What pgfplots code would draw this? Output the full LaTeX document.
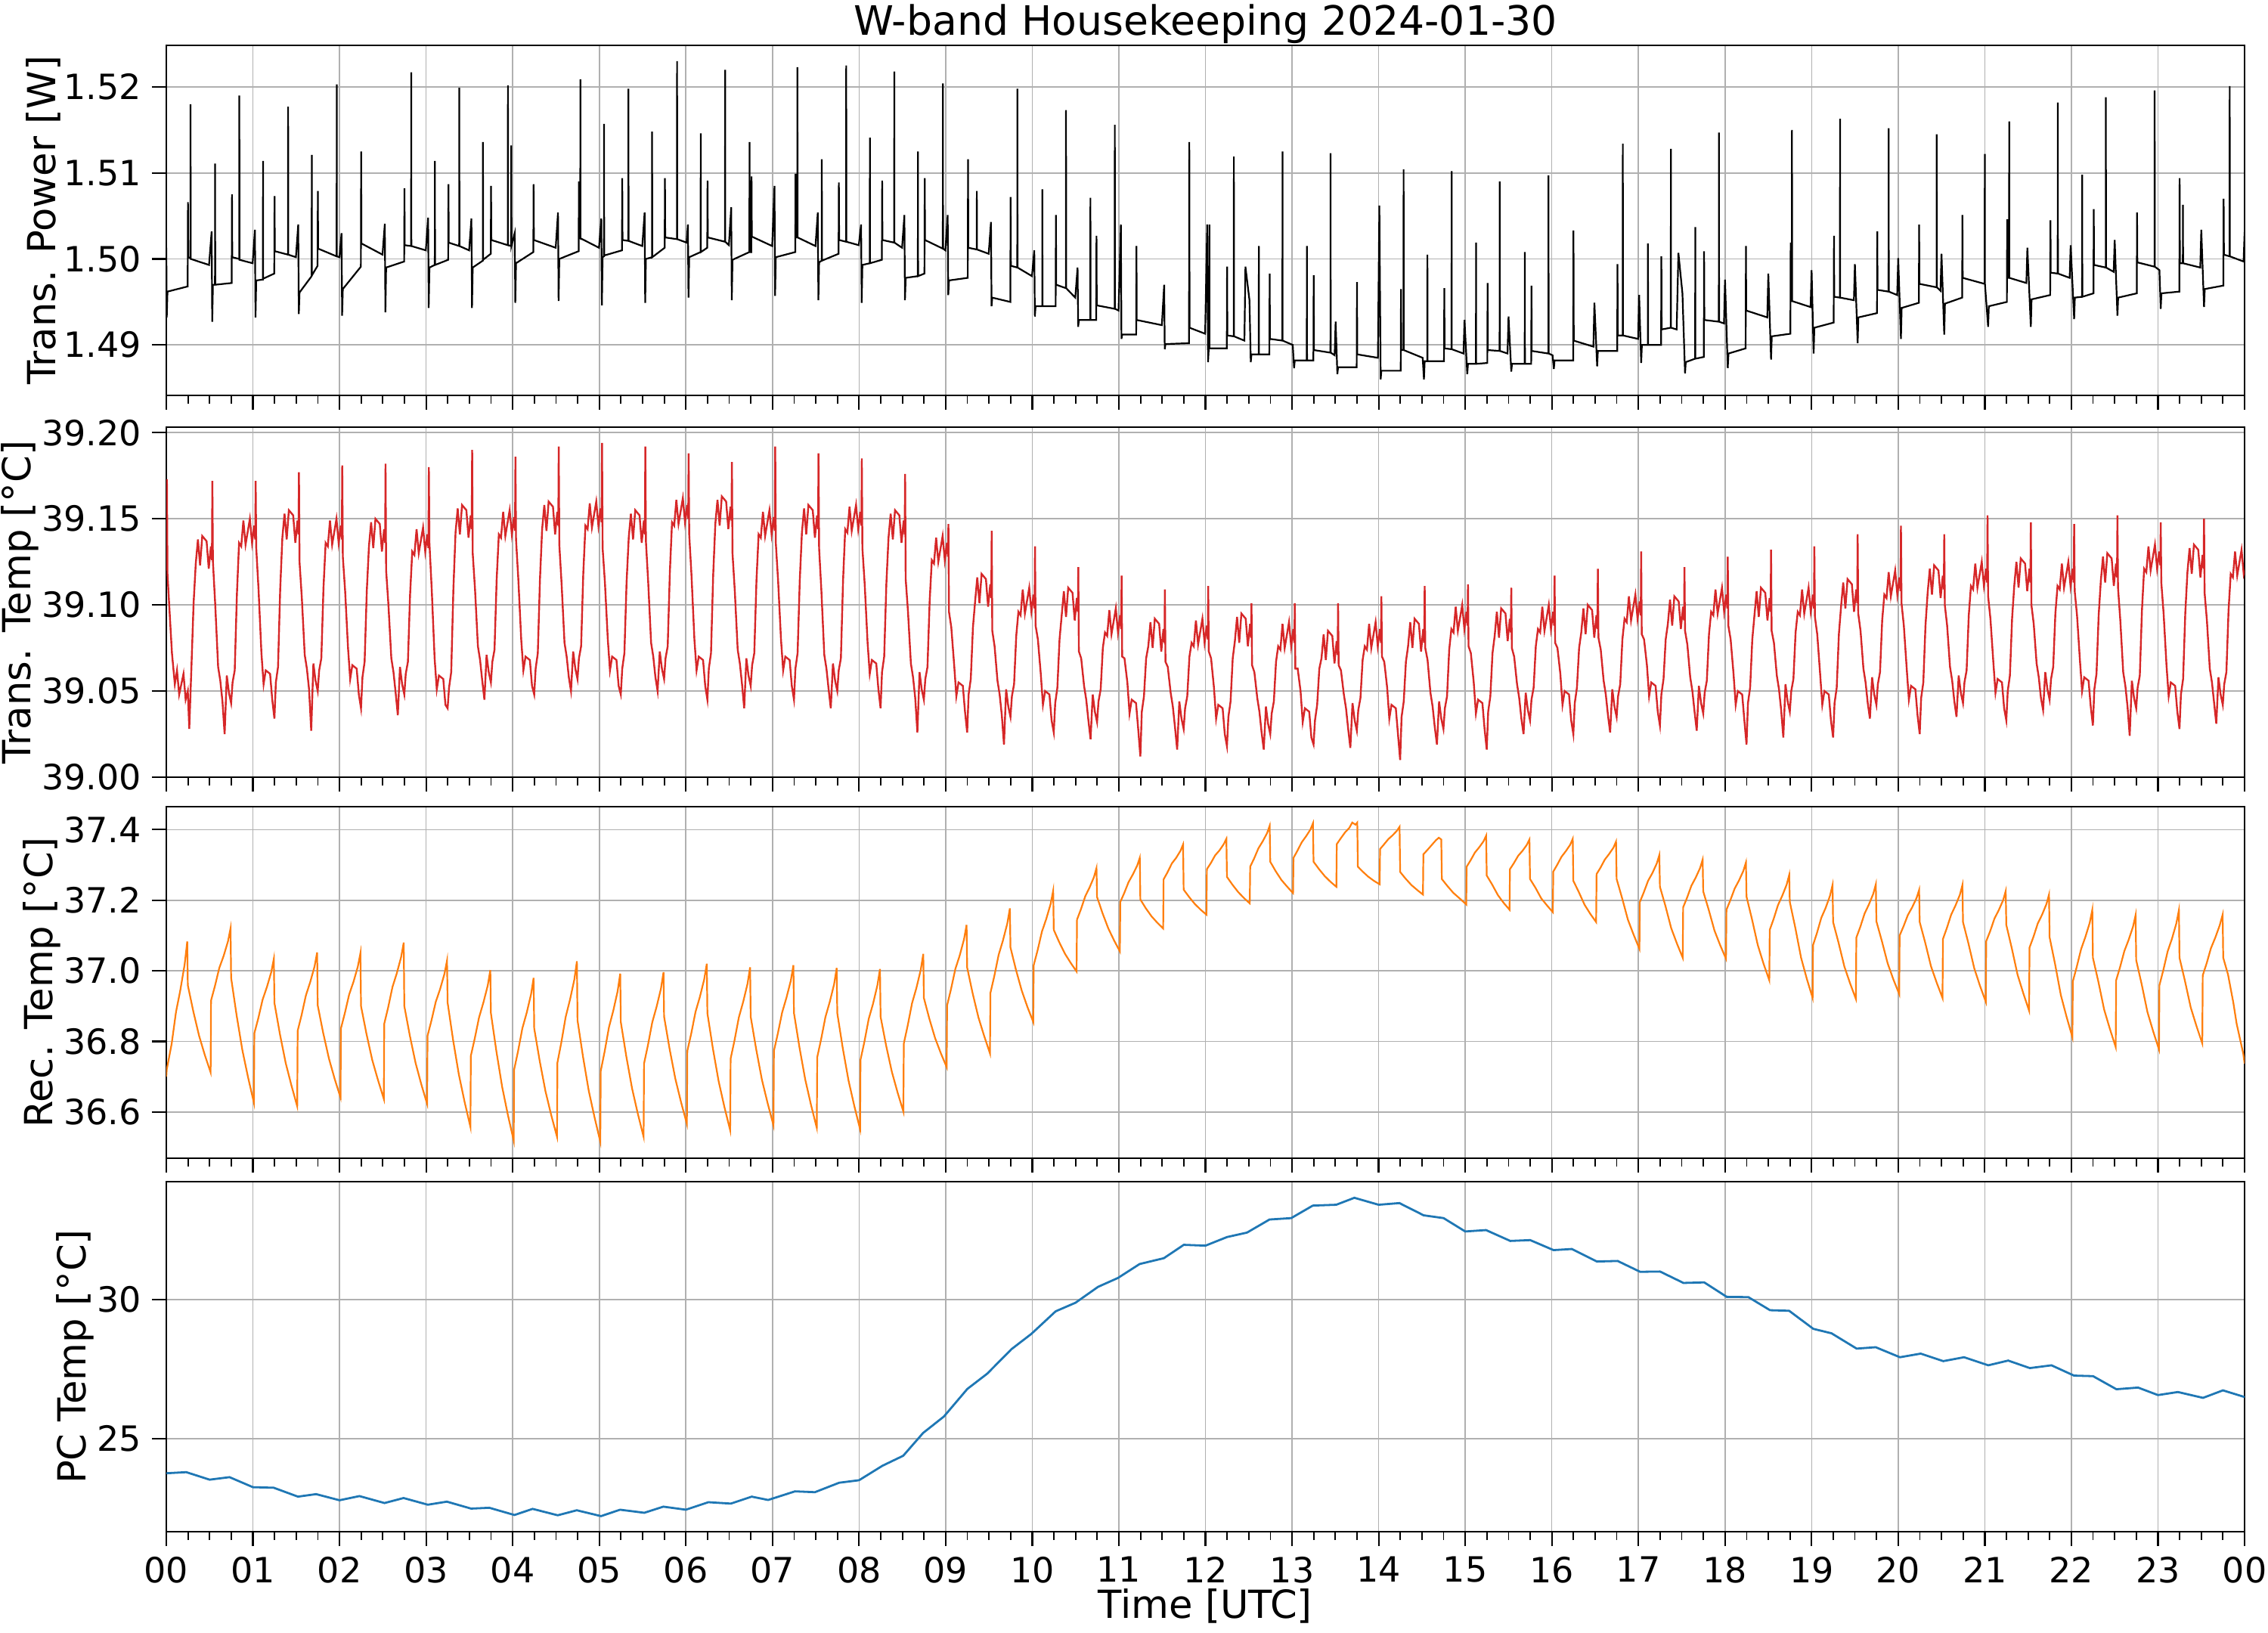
\documentclass[border=0pt]{standalone}
\usepackage{fontspec}
\setmainfont{DejaVu Sans}
\usepackage{pgfplots}
\pgfplotsset{compat=1.18}
\definecolor{mplred}{HTML}{D62728}
\definecolor{mplorange}{HTML}{FF7F0E}
\definecolor{mplblue}{HTML}{1F77B4}
\definecolor{gridgray}{HTML}{B0B0B0}
\pgfplotsset{
 hk/.style={
  scale only axis, width=687.25pt, height=115.75pt,
  xmin=0, xmax=1440,
  xtick={0,60,...,1440},
  minor x tick num=3,
  tick pos=left, tick align=outside,
  major tick length=4.75pt, minor tick length=2.8pt,
  tick style={line width=0.55pt, color=black},
  minor tick style={line width=0.45pt},
  grid=major,
  major grid style={line width=0.4pt, color=gridgray},
  axis line style={line width=0.6pt},
  tick label style={font=\fontsize{11.5}{13}\selectfont},
  label style={font=\fontsize{12.8}{15}\selectfont},
  ylabel shift=-5.75pt,
  /pgf/number format/assume math mode=true,
  scaled y ticks=false,
  xticklabels={},
  anchor=north west,
 }
}
\begin{document}
\begin{tikzpicture}
\useasboundingbox (0,0) rectangle (750pt,-540pt);
% ---------------- Panel 1: Trans. Power ----------------
\begin{axis}[hk, at={(55pt,-15pt)},
  ymin=1.48413, ymax=1.52484,
  ytick={1.49,1.50,1.51,1.52},
  yticklabel style={/pgf/number format/.cd,fixed,fixed zerofill,precision=2},
  ylabel={Trans. Power [W]}]
\addplot[black, line width=0.55pt] table {
x y
0 1.5013
0.3 1.4932
0.8 1.4962
14.8 1.4968
15.0 1.5066
15.2 1.5002
16.7 1.5001
16.8 1.5180
16.9 1.5000
29.6 1.4993
31.4 1.5032
31.8 1.4927
32.3 1.4970
33.7 1.4970
33.8 1.5111
33.9 1.4970
45.3 1.4972
45.5 1.5075
45.7 1.5002
50.5 1.5000
50.6 1.5190
50.7 1.4999
59.8 1.4995
61.4 1.5034
61.8 1.4932
62.3 1.4975
66.9 1.4976
67.0 1.5114
67.1 1.4977
74.8 1.4983
75.0 1.5073
75.2 1.5009
84.3 1.5005
84.4 1.5177
84.5 1.5005
89.8 1.5002
91.4 1.5040
91.8 1.4936
92.3 1.4961
100.7 1.4980
100.8 1.5121
100.9 1.4981
104.8 1.4992
105.0 1.5079
105.2 1.5012
118.0 1.5003
118.1 1.5203
118.2 1.5003
120.0 1.5002
121.4 1.5030
121.8 1.4934
122.3 1.4965
134.8 1.4991
135.0 1.5125
135.2 1.5018
149.8 1.5005
151.4 1.5041
151.8 1.4938
152.3 1.4990
164.8 1.4997
165.0 1.5082
165.2 1.5016
169.6 1.5015
169.7 1.5217
169.8 1.5015
179.8 1.5010
181.4 1.5048
181.8 1.4943
182.3 1.4990
186.0 1.4993
186.1 1.5114
186.2 1.4993
195.3 1.4999
195.5 1.5087
195.7 1.5019
202.9 1.5015
203.0 1.5199
203.1 1.5015
209.8 1.5010
211.4 1.5047
211.8 1.4943
212.3 1.4990
219.3 1.4998
219.4 1.5136
219.5 1.4999
224.8 1.5006
225.0 1.5085
225.2 1.5022
236.6 1.5016
236.7 1.5202
236.8 1.5016
238.9 1.5015
239.0 1.5132
239.1 1.5015
241.4 1.5030
241.8 1.4949
242.3 1.4995
254.3 1.5008
254.5 1.5087
254.7 1.5022
269.8 1.5013
271.4 1.5054
271.8 1.4951
272.3 1.5000
285.7 1.5009
285.9 1.5090
286.1 1.5025
286.8 1.5024
286.9 1.5209
287.0 1.5024
299.8 1.5013
301.4 1.5047
301.8 1.4946
302.3 1.5002
303.2 1.5003
303.3 1.5157
303.4 1.5004
315.7 1.5010
315.9 1.5094
316.1 1.5022
320.1 1.5021
320.2 1.5198
320.3 1.5021
329.8 1.5015
331.4 1.5054
331.8 1.4949
332.3 1.5000
336.5 1.5002
336.6 1.5148
336.7 1.5002
345.3 1.5013
345.5 1.5094
345.7 1.5025
353.8 1.5023
353.9 1.5230
354.0 1.5023
360.5 1.5019
361.4 1.5040
361.8 1.4955
362.3 1.5002
370.2 1.5008
370.3 1.5146
370.4 1.5008
374.8 1.5013
375.0 1.5091
375.2 1.5025
387.1 1.5020
387.2 1.5220
387.3 1.5020
389.8 1.5016
391.4 1.5060
391.8 1.4952
392.3 1.4999
404.0 1.5008
404.1 1.5136
404.2 1.5008
405.3 1.5008
405.5 1.5096
405.7 1.5026
419.8 1.5015
421.4 1.5085
421.8 1.4957
422.3 1.5002
435.8 1.5008
436.0 1.5099
436.2 1.5025
437.2 1.5025
437.3 1.5223
437.4 1.5025
449.8 1.5015
451.4 1.5054
451.8 1.4952
452.3 1.4996
454.1 1.4998
454.2 1.5116
454.3 1.4998
465.8 1.5006
466.0 1.5089
466.2 1.5022
471.0 1.5020
471.1 1.5225
471.2 1.5020
479.8 1.5016
481.4 1.5040
481.8 1.4949
482.3 1.4993
487.4 1.4995
487.5 1.5141
487.6 1.4995
495.8 1.4999
496.0 1.5091
496.2 1.5022
504.3 1.5019
504.4 1.5218
504.5 1.5019
509.8 1.5013
511.4 1.5051
511.8 1.4952
512.3 1.4978
520.7 1.4980
520.8 1.5125
520.9 1.4980
525.3 1.4983
525.5 1.5094
525.7 1.5022
538.0 1.5012
538.1 1.5204
538.2 1.5012
539.8 1.5010
541.4 1.5051
541.8 1.4958
542.3 1.4975
555.3 1.4978
555.5 1.5116
555.7 1.5013
561.5 1.5011
561.6 1.5079
561.7 1.5011
569.8 1.5006
571.4 1.5043
571.8 1.4945
572.3 1.4955
584.8 1.4950
585.0 1.5072
585.2 1.4992
589.6 1.4990
589.7 1.5198
589.8 1.4990
599.8 1.4980
601.4 1.5010
601.8 1.4933
602.3 1.4945
606.9 1.4945
607.0 1.5081
607.1 1.4945
616.2 1.4945
616.4 1.5051
616.6 1.4970
623.3 1.4966
623.4 1.5173
623.5 1.4966
629.8 1.4955
631.4 1.4990
631.8 1.4921
632.3 1.4929
640.2 1.4929
640.3 1.5071
640.4 1.4929
644.3 1.4929
644.5 1.5027
644.7 1.4946
657.1 1.4942
657.2 1.5156
657.3 1.4942
659.8 1.4940
661.4 1.5040
661.8 1.4907
662.3 1.4912
672.0 1.4912
672.2 1.5015
672.4 1.4929
689.8 1.4923
691.4 1.4970
691.8 1.4895
692.3 1.4901
708.6 1.4902
708.8 1.5136
709.0 1.4920
719.8 1.4913
721.2 1.5040
721.8 1.4880
722.3 1.4896
722.6 1.4896
722.7 1.5040
722.8 1.4896
734.8 1.4896
735.0 1.4991
735.2 1.4911
739.6 1.4910
739.7 1.5119
739.8 1.4910
747.0 1.4905
747.7 1.4991
750.5 1.4952
751.4 1.4880
751.9 1.4889
756.9 1.4889
757.0 1.5015
757.1 1.4889
764.3 1.4889
764.5 1.4983
764.7 1.4907
773.3 1.4905
773.4 1.5125
773.5 1.4905
780.5 1.4900
781.4 1.4873
781.9 1.4882
790.2 1.4882
790.3 1.5015
790.4 1.4882
794.8 1.4882
795.0 1.4981
795.2 1.4894
806.6 1.4891
806.7 1.5123
806.8 1.4891
809.5 1.4888
810.2 1.4927
811.4 1.4866
811.9 1.4874
824.8 1.4874
825.0 1.4973
825.2 1.4889
839.5 1.4885
840.5 1.5062
841.4 1.4860
841.9 1.4870
855.3 1.4870
855.5 1.4965
855.7 1.4894
857.2 1.4894
857.3 1.5104
857.4 1.4894
870.5 1.4885
871.4 1.4860
871.9 1.4881
873.7 1.4881
873.8 1.5005
873.9 1.4881
885.3 1.4881
885.5 1.4966
885.7 1.4896
890.5 1.4895
890.6 1.5102
890.7 1.4895
898.8 1.4890
899.5 1.4929
901.4 1.4866
901.9 1.4878
907.4 1.4878
907.5 1.5019
907.6 1.4878
915.3 1.4879
915.5 1.4972
915.7 1.4894
923.8 1.4893
923.9 1.5090
924.0 1.4893
929.3 1.4890
930.0 1.4933
931.9 1.4869
932.4 1.4878
941.2 1.4878
941.3 1.5008
941.4 1.4878
945.7 1.4878
945.9 1.4969
946.1 1.4893
957.6 1.4890
957.7 1.5097
957.8 1.4890
960.5 1.4888
961.4 1.4872
961.9 1.4882
974.8 1.4882
975.0 1.5033
975.2 1.4905
988.8 1.4898
989.5 1.4949
991.4 1.4875
991.9 1.4893
1005.3 1.4893
1005.5 1.4994
1005.7 1.4911
1009.1 1.4911
1009.2 1.5134
1009.3 1.4911
1019.8 1.4907
1020.5 1.4958
1021.9 1.4879
1022.4 1.4900
1026.5 1.4900
1026.6 1.5018
1026.7 1.4900
1035.7 1.4900
1035.9 1.5003
1036.1 1.4918
1042.4 1.4920
1042.5 1.5128
1042.6 1.4920
1046.5 1.4918
1047.7 1.5007
1050.5 1.4960
1052.3 1.4867
1052.8 1.4880
1059.3 1.4884
1059.4 1.5037
1059.5 1.4884
1065.3 1.4886
1065.5 1.5009
1065.7 1.4929
1075.7 1.4927
1075.8 1.5147
1075.9 1.4927
1079.3 1.4925
1080.0 1.4976
1081.9 1.4873
1082.4 1.4890
1094.3 1.4896
1094.5 1.5015
1094.7 1.4940
1109.3 1.4932
1110.0 1.4983
1111.9 1.4883
1112.4 1.4910
1125.3 1.4913
1125.5 1.5019
1125.7 1.4951
1126.3 1.4951
1126.4 1.5150
1126.5 1.4951
1139.3 1.4944
1140.0 1.4987
1141.4 1.4890
1141.9 1.4920
1155.3 1.4926
1155.5 1.5027
1155.7 1.4956
1159.6 1.4955
1159.7 1.5163
1159.8 1.4955
1169.3 1.4952
1170.0 1.4994
1171.9 1.4902
1172.4 1.4932
1185.3 1.4937
1185.5 1.5032
1185.7 1.4964
1193.3 1.4962
1193.4 1.5152
1193.5 1.4962
1199.3 1.4958
1200.0 1.5001
1201.9 1.4907
1202.4 1.4943
1214.3 1.4949
1214.5 1.5040
1214.7 1.4971
1226.6 1.4967
1226.7 1.5145
1226.8 1.4967
1229.3 1.4963
1230.0 1.5006
1231.9 1.4912
1232.4 1.4948
1244.3 1.4955
1244.5 1.5051
1244.7 1.4978
1259.9 1.4971
1260.0 1.5122
1260.1 1.4971
1262.3 1.4921
1262.8 1.4945
1275.3 1.4950
1275.5 1.5046
1275.7 1.4978
1276.8 1.4978
1276.9 1.5160
1277.0 1.4978
1288.8 1.4972
1289.5 1.5013
1291.9 1.4921
1292.4 1.4953
1305.3 1.4958
1305.5 1.5045
1305.7 1.4984
1310.5 1.4983
1310.6 1.5182
1310.7 1.4983
1318.8 1.4978
1319.5 1.5016
1321.9 1.4930
1322.4 1.4955
1327.4 1.4956
1327.5 1.5098
1327.6 1.4956
1335.3 1.4960
1335.5 1.5058
1335.7 1.4993
1343.8 1.4990
1343.9 1.5188
1344.0 1.4990
1349.3 1.4985
1350.0 1.5022
1351.9 1.4934
1352.4 1.4955
1365.3 1.4960
1365.5 1.5054
1365.7 1.4996
1377.6 1.4991
1377.7 1.5196
1377.8 1.4991
1381.0 1.4987
1381.9 1.4942
1382.4 1.4960
1394.8 1.4962
1395.0 1.5094
1395.2 1.4995
1397.2 1.4995
1397.3 1.5063
1397.4 1.4995
1409.3 1.4990
1410.0 1.5034
1411.9 1.4944
1412.4 1.4965
1425.3 1.4969
1425.5 1.5070
1425.7 1.5005
1429.6 1.5003
1429.7 1.5201
1429.8 1.5003
1439.3 1.4997
1440 1.5031
};
\end{axis}
% ---------------- Panel 2: Trans. Temp ----------------
\begin{axis}[hk, at={(55pt,-141.25pt)},
  ymin=39.0, ymax=39.2032,
  ytick={39.00,39.05,39.10,39.15,39.20},
  yticklabel style={/pgf/number format/.cd,fixed,fixed zerofill,precision=2},
  ylabel={Trans. Temp [°C]}]
\addplot[mplred, line width=0.6pt] table {
x y
0 39.120
0.4 39.173
0.8 39.118
2.0 39.100
3.9 39.072
5.9 39.054
7.4 39.062
8.9 39.048
11.9 39.060
13.4 39.045
14.9 39.050
15.9 39.028
17.4 39.064
18.9 39.101
20.4 39.124
21.9 39.138
23.4 39.123
24.9 39.140
27.9 39.137
29.4 39.121
30.9 39.134
31.6 39.126
31.9 39.172
32.3 39.125
33.9 39.100
35.9 39.064
37.4 39.056
38.9 39.044
40.4 39.025
41.9 39.059
43.4 39.049
44.9 39.043
45.9 39.055
47.4 39.062
48.9 39.106
50.4 39.136
51.9 39.134
53.4 39.149
54.9 39.135
57.9 39.150
59.4 39.136
60.9 39.146
61.6 39.138
61.9 39.172
62.3 39.133
63.9 39.109
65.9 39.072
67.4 39.054
68.9 39.062
71.9 39.060
73.4 39.045
74.9 39.034
75.9 39.055
77.4 39.064
78.9 39.109
80.4 39.139
81.9 39.153
83.4 39.138
84.9 39.155
87.9 39.152
89.4 39.136
90.9 39.149
91.6 39.141
91.9 39.177
92.3 39.125
93.9 39.104
95.9 39.071
97.4 39.063
98.9 39.051
100.4 39.027
101.9 39.066
103.4 39.056
104.9 39.050
105.9 39.062
107.4 39.069
108.9 39.110
110.4 39.136
111.9 39.134
113.4 39.149
114.9 39.135
117.9 39.150
119.4 39.136
120.9 39.146
121.6 39.138
121.9 39.181
122.3 39.128
123.9 39.108
125.9 39.075
127.4 39.057
128.9 39.065
131.9 39.063
133.4 39.048
134.9 39.040
135.9 39.058
137.4 39.067
138.9 39.108
140.4 39.134
141.9 39.148
143.4 39.133
144.9 39.150
147.9 39.147
149.4 39.131
150.9 39.144
151.6 39.136
151.9 39.182
152.3 39.120
153.9 39.100
155.9 39.069
157.4 39.061
158.9 39.049
160.4 39.036
161.9 39.064
163.4 39.054
164.9 39.048
165.9 39.060
167.4 39.067
168.9 39.106
170.4 39.131
171.9 39.129
173.4 39.144
174.9 39.130
177.9 39.145
179.4 39.131
180.9 39.141
181.6 39.133
181.9 39.180
182.3 39.136
183.9 39.109
185.9 39.069
187.4 39.051
188.9 39.059
191.9 39.057
193.4 39.042
194.9 39.040
195.9 39.052
197.4 39.061
198.9 39.109
200.4 39.142
201.9 39.156
203.4 39.141
204.9 39.158
207.9 39.155
209.4 39.139
210.9 39.152
211.6 39.144
211.9 39.190
212.3 39.130
213.9 39.109
215.9 39.076
217.4 39.068
218.9 39.056
220.4 39.045
221.9 39.071
223.4 39.061
224.9 39.055
225.9 39.067
227.4 39.074
228.9 39.115
230.4 39.141
231.9 39.139
233.4 39.154
234.9 39.140
237.9 39.155
239.4 39.141
240.9 39.151
241.6 39.143
241.9 39.186
242.3 39.138
243.9 39.115
245.9 39.080
247.4 39.062
248.9 39.070
251.9 39.068
253.4 39.053
254.9 39.048
255.9 39.063
257.4 39.072
258.9 39.115
260.4 39.144
261.9 39.158
263.4 39.143
264.9 39.160
267.9 39.157
269.4 39.141
270.9 39.154
271.6 39.146
271.9 39.192
272.3 39.135
273.9 39.112
275.9 39.078
277.4 39.070
278.9 39.058
280.4 39.050
281.9 39.073
283.4 39.063
284.9 39.057
285.9 39.069
287.4 39.076
288.9 39.118
290.4 39.146
291.9 39.144
293.4 39.159
294.9 39.145
297.9 39.160
299.4 39.146
300.9 39.156
301.6 39.148
301.9 39.194
302.3 39.133
303.9 39.113
305.9 39.080
307.4 39.062
308.9 39.070
311.9 39.068
313.4 39.053
314.9 39.048
315.9 39.063
317.4 39.072
318.9 39.113
320.4 39.139
321.9 39.153
323.4 39.138
324.9 39.155
327.9 39.152
329.4 39.136
330.9 39.149
331.6 39.141
331.9 39.192
332.3 39.137
333.9 39.113
335.9 39.078
337.4 39.070
338.9 39.058
340.4 39.050
341.9 39.073
343.4 39.063
344.9 39.057
345.9 39.069
347.4 39.076
348.9 39.119
350.4 39.148
351.9 39.146
353.4 39.161
354.9 39.147
357.9 39.162
359.4 39.148
360.9 39.158
361.6 39.150
361.9 39.188
362.3 39.141
363.9 39.117
365.9 39.080
367.4 39.062
368.9 39.070
371.9 39.068
373.4 39.053
374.9 39.045
375.9 39.063
377.4 39.072
378.9 39.117
380.4 39.147
381.9 39.161
383.4 39.146
384.9 39.163
387.9 39.160
389.4 39.144
390.9 39.157
391.6 39.149
391.9 39.183
392.3 39.130
393.9 39.108
395.9 39.074
397.4 39.066
398.9 39.054
400.4 39.040
401.9 39.069
403.4 39.059
404.9 39.053
405.9 39.065
407.4 39.072
408.9 39.114
410.4 39.141
411.9 39.139
413.4 39.154
414.9 39.140
417.9 39.155
419.4 39.141
420.9 39.151
421.6 39.143
421.9 39.192
422.3 39.136
423.9 39.114
425.9 39.080
427.4 39.062
428.9 39.070
431.9 39.068
433.4 39.053
434.9 39.045
435.9 39.063
437.4 39.072
438.9 39.114
440.4 39.142
441.9 39.156
443.4 39.141
444.9 39.158
447.9 39.155
449.4 39.139
450.9 39.152
451.6 39.144
451.9 39.188
452.3 39.133
453.9 39.108
455.9 39.071
457.4 39.063
458.9 39.051
460.4 39.040
461.9 39.066
463.4 39.056
464.9 39.050
465.9 39.062
467.4 39.069
468.9 39.114
470.4 39.144
471.9 39.142
473.4 39.157
474.9 39.143
477.9 39.158
479.4 39.144
480.9 39.154
481.6 39.146
481.9 39.185
482.3 39.133
483.9 39.112
485.9 39.078
487.4 39.060
488.9 39.068
491.9 39.066
493.4 39.051
494.9 39.040
495.9 39.061
497.4 39.070
498.9 39.112
500.4 39.139
501.9 39.153
503.4 39.138
504.9 39.155
507.9 39.152
509.4 39.136
510.9 39.149
511.6 39.141
511.9 39.176
512.3 39.115
513.9 39.096
515.9 39.066
517.4 39.058
518.9 39.046
520.4 39.026
521.9 39.061
523.4 39.051
524.9 39.045
525.9 39.057
527.4 39.064
528.9 39.102
530.4 39.126
531.9 39.124
533.4 39.139
534.9 39.125
537.9 39.140
539.4 39.126
540.9 39.136
541.6 39.128
541.9 39.147
542.3 39.096
543.9 39.087
545.9 39.065
547.4 39.047
548.9 39.055
551.9 39.053
553.4 39.038
554.9 39.026
555.9 39.048
557.4 39.057
558.9 39.087
560.4 39.102
561.9 39.116
563.4 39.101
564.9 39.118
567.9 39.115
569.4 39.099
570.9 39.112
571.6 39.104
571.9 39.143
572.3 39.085
573.9 39.076
575.9 39.056
577.4 39.048
578.9 39.036
580.4 39.019
581.9 39.051
583.4 39.041
584.9 39.035
585.9 39.047
587.4 39.054
588.9 39.082
590.4 39.096
591.9 39.094
593.4 39.109
594.9 39.095
597.9 39.110
599.4 39.096
600.9 39.106
601.6 39.098
601.9 39.134
602.3 39.088
603.9 39.080
605.9 39.060
607.4 39.042
608.9 39.050
611.9 39.048
613.4 39.033
614.9 39.026
615.9 39.043
617.4 39.052
618.9 39.080
620.4 39.094
621.9 39.108
623.4 39.093
624.9 39.110
627.9 39.107
629.4 39.091
630.9 39.104
631.6 39.096
631.9 39.122
632.3 39.073
633.9 39.069
635.9 39.053
637.4 39.045
638.9 39.033
640.4 39.022
641.9 39.048
643.4 39.038
644.9 39.032
645.9 39.044
647.4 39.051
648.9 39.075
650.4 39.084
651.9 39.082
653.4 39.097
654.9 39.083
657.9 39.098
659.4 39.084
660.9 39.094
661.6 39.086
661.9 39.117
662.3 39.070
663.9 39.069
665.9 39.055
667.4 39.037
668.9 39.045
671.9 39.043
673.4 39.028
674.9 39.012
675.9 39.038
677.4 39.047
678.9 39.069
680.4 39.076
681.9 39.090
683.4 39.075
684.9 39.092
687.9 39.089
689.4 39.073
690.9 39.086
691.6 39.078
691.9 39.109
692.3 39.067
693.9 39.064
695.9 39.049
697.4 39.041
698.9 39.029
700.4 39.016
701.9 39.044
703.4 39.034
704.9 39.028
705.9 39.040
707.4 39.047
708.9 39.070
710.4 39.078
711.9 39.076
713.4 39.091
714.9 39.077
717.9 39.092
719.4 39.078
720.9 39.088
721.6 39.080
721.9 39.111
722.3 39.073
723.9 39.069
725.9 39.052
727.4 39.034
728.9 39.042
731.9 39.040
733.4 39.025
734.9 39.018
735.9 39.035
737.4 39.044
738.9 39.069
740.4 39.079
741.9 39.093
743.4 39.078
744.9 39.095
747.9 39.092
749.4 39.076
750.9 39.089
751.6 39.081
751.9 39.101
752.3 39.065
753.9 39.061
755.9 39.046
757.4 39.038
758.9 39.026
760.4 39.016
761.9 39.041
763.4 39.031
764.9 39.025
765.9 39.037
767.4 39.044
768.9 39.067
770.4 39.076
771.9 39.074
773.4 39.089
774.9 39.075
777.9 39.090
779.4 39.076
780.9 39.086
781.6 39.078
781.9 39.101
782.3 39.063
783.9 39.063
785.9 39.050
787.4 39.032
788.9 39.040
791.9 39.038
793.4 39.023
794.9 39.019
795.9 39.033
797.4 39.042
798.9 39.063
800.4 39.069
801.9 39.083
803.4 39.068
804.9 39.085
807.9 39.082
809.4 39.066
810.9 39.079
811.6 39.071
811.9 39.101
812.3 39.065
813.9 39.062
815.9 39.048
817.4 39.040
818.9 39.028
820.4 39.017
821.9 39.043
823.4 39.033
824.9 39.027
825.9 39.039
827.4 39.046
828.9 39.068
830.4 39.076
831.9 39.074
833.4 39.089
834.9 39.075
837.9 39.090
839.4 39.076
840.9 39.086
841.6 39.078
841.9 39.105
842.3 39.070
843.9 39.067
845.9 39.052
847.4 39.034
848.9 39.042
851.9 39.040
853.4 39.025
854.9 39.010
855.9 39.035
857.4 39.044
858.9 39.067
860.4 39.076
861.9 39.090
863.4 39.075
864.9 39.092
867.9 39.089
869.4 39.073
870.9 39.086
871.6 39.078
871.9 39.111
872.3 39.075
873.9 39.068
875.9 39.049
877.4 39.041
878.9 39.029
880.4 39.019
881.9 39.044
883.4 39.034
884.9 39.028
885.9 39.040
887.4 39.047
888.9 39.074
890.4 39.086
891.9 39.084
893.4 39.099
894.9 39.085
897.9 39.100
899.4 39.086
900.9 39.096
901.6 39.088
901.9 39.112
902.3 39.076
903.9 39.072
905.9 39.055
907.4 39.037
908.9 39.045
911.9 39.043
913.4 39.028
914.9 39.016
915.9 39.038
917.4 39.047
918.9 39.072
920.4 39.082
921.9 39.096
923.4 39.081
924.9 39.098
927.9 39.095
929.4 39.079
930.9 39.092
931.6 39.084
931.9 39.110
932.3 39.075
933.9 39.070
935.9 39.054
937.4 39.046
938.9 39.034
940.4 39.025
941.9 39.049
943.4 39.039
944.9 39.033
945.9 39.045
947.4 39.052
948.9 39.076
950.4 39.086
951.9 39.084
953.4 39.099
954.9 39.085
957.9 39.100
959.4 39.086
960.9 39.096
961.6 39.088
961.9 39.117
962.3 39.078
963.9 39.075
965.9 39.060
967.4 39.042
968.9 39.050
971.9 39.048
973.4 39.033
974.9 39.025
975.9 39.043
977.4 39.052
978.9 39.075
980.4 39.084
981.9 39.098
983.4 39.083
984.9 39.100
987.9 39.097
989.4 39.081
990.9 39.094
991.6 39.086
991.9 39.121
992.3 39.081
993.9 39.074
995.9 39.056
997.4 39.048
998.9 39.036
1000.4 39.026
1001.9 39.051
1003.4 39.041
1004.9 39.035
1005.9 39.047
1007.4 39.054
1008.9 39.080
1010.4 39.092
1011.9 39.090
1013.4 39.105
1014.9 39.091
1017.9 39.106
1019.4 39.092
1020.9 39.102
1021.6 39.094
1021.9 39.131
1022.3 39.083
1023.9 39.080
1025.9 39.065
1027.4 39.047
1028.9 39.055
1031.9 39.053
1033.4 39.038
1034.9 39.030
1035.9 39.048
1037.4 39.057
1038.9 39.080
1040.4 39.089
1041.9 39.103
1043.4 39.088
1044.9 39.105
1047.9 39.102
1049.4 39.086
1050.9 39.099
1051.6 39.091
1051.9 39.122
1052.3 39.085
1053.9 39.077
1055.9 39.058
1057.4 39.050
1058.9 39.038
1060.4 39.027
1061.9 39.053
1063.4 39.043
1064.9 39.037
1065.9 39.049
1067.4 39.056
1068.9 39.083
1070.4 39.096
1071.9 39.094
1073.4 39.109
1074.9 39.095
1077.9 39.110
1079.4 39.096
1080.9 39.106
1081.6 39.098
1081.9 39.128
1082.3 39.088
1083.9 39.080
1085.9 39.060
1087.4 39.042
1088.9 39.050
1091.9 39.048
1093.4 39.033
1094.9 39.019
1095.9 39.043
1097.4 39.052
1098.9 39.080
1100.4 39.094
1101.9 39.108
1103.4 39.093
1104.9 39.110
1107.9 39.107
1109.4 39.091
1110.9 39.104
1111.6 39.096
1111.9 39.132
1112.3 39.085
1113.9 39.078
1115.9 39.059
1117.4 39.051
1118.9 39.039
1120.4 39.023
1121.9 39.054
1123.4 39.044
1124.9 39.038
1125.9 39.050
1127.4 39.057
1128.9 39.084
1130.4 39.096
1131.9 39.094
1133.4 39.109
1134.9 39.095
1137.9 39.110
1139.4 39.096
1140.9 39.106
1141.6 39.098
1141.9 39.134
1142.3 39.093
1143.9 39.083
1145.9 39.060
1147.4 39.042
1148.9 39.050
1151.9 39.048
1153.4 39.033
1154.9 39.023
1155.9 39.043
1157.4 39.052
1158.9 39.083
1160.4 39.099
1161.9 39.113
1163.4 39.098
1164.9 39.115
1167.9 39.112
1169.4 39.096
1170.9 39.109
1171.6 39.101
1171.9 39.141
1172.3 39.095
1173.9 39.085
1175.9 39.063
1177.4 39.055
1178.9 39.043
1180.4 39.034
1181.9 39.058
1183.4 39.048
1184.9 39.042
1185.9 39.054
1187.4 39.061
1188.9 39.091
1190.4 39.106
1191.9 39.104
1193.4 39.119
1194.9 39.105
1197.9 39.120
1199.4 39.106
1200.9 39.116
1201.6 39.108
1201.9 39.146
1202.3 39.101
1203.9 39.088
1205.9 39.063
1207.4 39.045
1208.9 39.053
1211.9 39.051
1213.4 39.036
1214.9 39.025
1215.9 39.046
1217.4 39.055
1218.9 39.088
1220.4 39.107
1221.9 39.121
1223.4 39.106
1224.9 39.123
1227.9 39.120
1229.4 39.104
1230.9 39.117
1231.6 39.109
1231.9 39.141
1232.3 39.100
1233.9 39.088
1235.9 39.064
1237.4 39.056
1238.9 39.044
1240.4 39.035
1241.9 39.059
1243.4 39.049
1244.9 39.043
1245.9 39.055
1247.4 39.062
1248.9 39.094
1250.4 39.111
1251.9 39.109
1253.4 39.124
1254.9 39.110
1257.9 39.125
1259.4 39.111
1260.9 39.121
1261.6 39.113
1261.9 39.152
1262.3 39.105
1263.9 39.092
1265.9 39.067
1267.4 39.049
1268.9 39.057
1271.9 39.055
1273.4 39.040
1274.9 39.033
1275.9 39.050
1277.4 39.059
1278.9 39.092
1280.4 39.111
1281.9 39.125
1283.4 39.110
1284.9 39.127
1287.9 39.124
1289.4 39.108
1290.9 39.121
1291.6 39.113
1291.9 39.148
1292.3 39.100
1293.9 39.089
1295.9 39.066
1297.4 39.058
1298.9 39.046
1300.4 39.039
1301.9 39.061
1303.4 39.051
1304.9 39.045
1305.9 39.057
1307.4 39.064
1308.9 39.095
1310.4 39.111
1311.9 39.109
1313.4 39.124
1314.9 39.110
1317.9 39.125
1319.4 39.111
1320.9 39.121
1321.6 39.113
1321.9 39.147
1322.3 39.108
1323.9 39.094
1325.9 39.068
1327.4 39.050
1328.9 39.058
1331.9 39.056
1333.4 39.041
1334.9 39.030
1335.9 39.051
1337.4 39.060
1338.9 39.094
1340.4 39.114
1341.9 39.128
1343.4 39.113
1344.9 39.130
1347.9 39.127
1349.4 39.111
1350.9 39.124
1351.6 39.116
1351.9 39.152
1352.3 39.110
1353.9 39.091
1355.9 39.061
1357.4 39.053
1358.9 39.041
1360.4 39.024
1361.9 39.056
1363.4 39.046
1364.9 39.040
1365.9 39.052
1367.4 39.059
1368.9 39.097
1370.4 39.121
1371.9 39.119
1373.4 39.134
1374.9 39.120
1377.9 39.135
1379.4 39.121
1380.9 39.131
1381.6 39.123
1381.9 39.148
1382.3 39.113
1383.9 39.095
1385.9 39.065
1387.4 39.047
1388.9 39.055
1391.9 39.053
1393.4 39.038
1394.9 39.028
1395.9 39.048
1397.4 39.057
1398.9 39.095
1400.4 39.119
1401.9 39.133
1403.4 39.118
1404.9 39.135
1407.9 39.132
1409.4 39.116
1410.9 39.129
1411.6 39.121
1411.9 39.150
1412.3 39.107
1413.9 39.091
1415.9 39.063
1417.4 39.055
1418.9 39.043
1420.4 39.031
1421.9 39.058
1423.4 39.048
1424.9 39.042
1425.9 39.054
1427.4 39.061
1428.9 39.097
1430.4 39.118
1431.9 39.116
1433.4 39.131
1434.9 39.117
1437.9 39.132
1439.4 39.118
1440 39.120
};
\end{axis}
% ---------------- Panel 3: Rec. Temp ----------------
\begin{axis}[hk, at={(55pt,-266.75pt)}, height=116.25pt,
  ymin=36.469, ymax=37.465,
  ytick={36.6,36.8,37.0,37.2,37.4},
  yticklabel style={/pgf/number format/.cd,fixed,fixed zerofill,precision=1},
  ylabel={Rec. Temp [°C]}]
\addplot[mplorange, line width=0.55pt] table {
x y
0 36.700
0.3 36.720
3.7 36.793
6.7 36.883
9.7 36.945
12.7 37.018
14.5 37.083
14.9 36.959
18.7 36.885
22.7 36.816
26.7 36.761
30.7 36.712
31.0 36.916
33.7 36.957
36.7 37.008
39.7 37.042
42.7 37.083
44.5 37.120
44.9 36.980
48.7 36.874
52.7 36.775
56.7 36.697
60.7 36.626
61.0 36.823
63.7 36.865
66.7 36.918
69.7 36.954
72.7 36.996
74.5 37.034
74.9 36.909
78.7 36.821
82.7 36.739
86.7 36.675
90.7 36.616
91.0 36.830
93.7 36.874
96.7 36.930
99.7 36.968
102.7 37.012
104.5 37.052
104.9 36.902
108.7 36.824
112.7 36.751
116.7 36.693
120.7 36.641
121.0 36.837
123.7 36.880
126.7 36.933
129.7 36.969
132.7 37.012
134.5 37.050
134.9 36.900
138.7 36.821
142.7 36.747
146.7 36.690
150.7 36.637
151.0 36.850
153.7 36.896
156.7 36.954
159.7 36.993
162.7 37.039
164.5 37.080
164.9 36.900
168.7 36.817
172.7 36.739
176.7 36.678
180.7 36.623
181.0 36.816
183.7 36.859
186.7 36.912
189.7 36.948
192.7 36.991
194.5 37.029
194.9 36.910
198.7 36.804
202.7 36.706
206.7 36.628
210.7 36.558
211.0 36.759
213.7 36.808
216.7 36.868
219.7 36.910
222.7 36.958
224.5 37.002
224.9 36.880
228.7 36.772
232.7 36.671
236.7 36.591
240.7 36.519
241.0 36.720
243.7 36.772
246.7 36.837
249.7 36.881
252.7 36.933
254.5 36.980
254.9 36.837
258.7 36.745
262.7 36.659
266.7 36.591
270.7 36.530
271.0 36.740
273.7 36.797
276.7 36.869
279.7 36.918
282.7 36.975
284.5 37.027
284.9 36.860
288.7 36.757
292.7 36.660
296.7 36.585
300.7 36.516
301.0 36.716
303.7 36.771
306.7 36.840
309.7 36.887
312.7 36.942
314.5 36.992
314.9 36.855
318.7 36.758
322.7 36.667
326.7 36.595
330.7 36.530
331.0 36.737
333.7 36.789
336.7 36.854
339.7 36.898
342.7 36.949
344.5 36.996
344.9 36.870
348.7 36.779
352.7 36.694
356.7 36.627
360.7 36.566
361.0 36.773
363.7 36.822
366.7 36.884
369.7 36.926
372.7 36.976
374.5 37.020
374.9 36.880
378.7 36.780
382.7 36.687
386.7 36.614
390.7 36.548
391.0 36.751
393.7 36.803
396.7 36.868
399.7 36.912
402.7 36.963
404.5 37.010
404.9 36.870
408.7 36.778
412.7 36.691
416.7 36.624
420.7 36.562
421.0 36.773
423.7 36.822
426.7 36.882
429.7 36.924
432.7 36.972
434.5 37.016
434.9 36.880
438.7 36.783
442.7 36.692
446.7 36.620
450.7 36.555
451.0 36.755
453.7 36.806
456.7 36.869
459.7 36.912
462.7 36.962
464.5 37.008
464.9 36.880
468.7 36.781
472.7 36.689
476.7 36.617
480.7 36.551
481.0 36.748
483.7 36.799
486.7 36.864
489.7 36.907
492.7 36.959
494.5 37.005
494.9 36.870
498.7 36.789
502.7 36.714
506.7 36.655
510.7 36.601
511.0 36.794
513.7 36.845
516.7 36.908
519.7 36.951
522.7 37.002
524.5 37.048
524.9 36.923
528.7 36.864
532.7 36.809
536.7 36.766
540.7 36.727
541.0 36.902
543.7 36.948
546.7 37.005
549.7 37.043
552.7 37.089
554.5 37.130
554.9 37.009
558.7 36.936
562.7 36.868
566.7 36.815
570.7 36.766
571.0 36.937
573.7 36.985
576.7 37.045
579.7 37.086
582.7 37.134
584.5 37.177
584.9 37.066
588.7 37.003
592.7 36.944
596.7 36.897
600.7 36.855
601.0 37.016
603.7 37.058
606.7 37.111
609.7 37.147
612.7 37.189
614.5 37.227
614.9 37.116
618.7 37.081
622.7 37.048
626.7 37.022
630.7 36.998
631.0 37.145
633.7 37.174
636.7 37.211
639.7 37.236
642.7 37.265
644.5 37.291
644.9 37.209
648.7 37.163
652.7 37.120
656.7 37.086
660.7 37.055
661.0 37.195
663.7 37.220
666.7 37.251
669.7 37.273
672.7 37.298
674.5 37.320
674.9 37.202
678.7 37.177
682.7 37.154
686.7 37.136
690.7 37.120
691.0 37.259
693.7 37.279
696.7 37.304
699.7 37.320
702.7 37.340
704.5 37.358
704.9 37.230
708.7 37.209
712.7 37.189
716.7 37.173
720.7 37.159
721.0 37.288
723.7 37.305
726.7 37.327
729.7 37.341
732.7 37.359
734.5 37.374
734.9 37.266
738.7 37.244
742.7 37.223
746.7 37.206
750.7 37.191
751.0 37.295
753.7 37.318
756.7 37.347
759.7 37.367
762.7 37.390
764.5 37.411
764.9 37.309
768.7 37.282
772.7 37.257
776.7 37.238
780.7 37.220
781.0 37.320
783.7 37.340
786.7 37.364
789.7 37.381
792.7 37.400
794.5 37.418
794.9 37.309
798.7 37.288
802.7 37.268
806.7 37.252
810.7 37.238
811.0 37.359
813.7 37.375
816.7 37.392
819.7 37.405
821.7 37.420
824.0 37.414
825.2 37.420
825.6 37.295
828.7 37.282
832.7 37.267
836.7 37.255
840.7 37.245
841.0 37.345
843.7 37.358
846.7 37.373
849.7 37.384
852.7 37.397
854.5 37.408
854.9 37.280
858.7 37.261
862.7 37.243
866.7 37.229
870.7 37.216
871.0 37.330
873.7 37.342
876.7 37.356
879.7 37.370
881.7 37.377
883.4 37.372
883.8 37.260
887.7 37.240
891.7 37.221
896.7 37.203
900.7 37.188
901.0 37.295
903.7 37.313
906.7 37.335
909.7 37.350
912.7 37.367
914.5 37.383
914.9 37.270
918.7 37.244
922.7 37.214
926.7 37.192
930.7 37.173
931.0 37.288
933.7 37.305
936.7 37.326
939.7 37.340
942.7 37.357
944.5 37.372
944.9 37.260
948.7 37.235
952.7 37.205
956.7 37.185
960.7 37.166
961.0 37.281
963.7 37.300
966.7 37.323
969.7 37.339
972.7 37.357
974.5 37.374
974.9 37.255
978.7 37.223
982.7 37.187
986.7 37.161
990.7 37.138
991.0 37.274
993.7 37.292
996.7 37.315
999.7 37.331
1002.7 37.349
1004.5 37.366
1004.9 37.260
1008.7 37.206
1012.7 37.145
1016.7 37.102
1020.7 37.062
1021.0 37.195
1023.7 37.222
1026.7 37.255
1029.7 37.277
1032.7 37.304
1034.5 37.328
1034.9 37.238
1038.7 37.184
1042.7 37.121
1046.7 37.077
1050.7 37.037
1051.0 37.180
1053.7 37.207
1056.7 37.241
1059.7 37.264
1062.7 37.291
1064.5 37.315
1064.9 37.225
1068.7 37.173
1072.7 37.114
1076.7 37.072
1080.7 37.034
1081.0 37.173
1083.7 37.200
1086.7 37.233
1089.7 37.256
1092.7 37.283
1094.5 37.307
1094.9 37.210
1098.7 37.146
1102.7 37.073
1106.7 37.020
1110.7 36.973
1111.0 37.116
1113.7 37.147
1116.7 37.186
1119.7 37.213
1122.7 37.244
1124.5 37.272
1124.9 37.195
1128.7 37.122
1132.7 37.037
1136.7 36.977
1140.7 36.923
1141.0 37.073
1143.7 37.107
1146.7 37.150
1149.7 37.178
1152.7 37.212
1154.5 37.243
1154.9 37.138
1158.7 37.079
1162.7 37.012
1166.7 36.964
1170.7 36.920
1171.0 37.094
1173.7 37.124
1176.7 37.162
1179.7 37.188
1182.7 37.218
1184.5 37.245
1184.9 37.140
1188.7 37.084
1192.7 37.021
1196.7 36.975
1200.7 36.934
1201.0 37.100
1203.7 37.126
1206.7 37.158
1209.7 37.180
1212.7 37.206
1214.5 37.229
1214.9 37.138
1218.7 37.080
1222.7 37.013
1226.7 36.966
1230.7 36.923
1231.0 37.090
1233.7 37.121
1236.7 37.159
1239.7 37.185
1242.7 37.215
1244.5 37.243
1244.9 37.138
1248.7 37.077
1252.7 37.007
1256.7 36.957
1260.7 36.912
1261.0 37.084
1263.7 37.112
1266.7 37.148
1269.7 37.172
1272.7 37.200
1274.5 37.226
1274.9 37.130
1278.7 37.064
1282.7 36.989
1286.7 36.936
1290.7 36.887
1291.0 37.066
1293.7 37.096
1296.7 37.134
1299.7 37.159
1302.7 37.189
1304.5 37.216
1304.9 37.095
1308.7 37.019
1312.7 36.931
1316.7 36.869
1320.7 36.812
1321.0 36.970
1323.7 37.011
1326.7 37.061
1329.7 37.096
1332.7 37.136
1334.5 37.173
1334.9 37.037
1338.7 36.969
1342.7 36.890
1346.7 36.835
1350.7 36.784
1351.0 36.973
1353.7 37.010
1356.7 37.056
1359.7 37.088
1362.7 37.125
1364.5 37.158
1364.9 37.030
1368.7 36.962
1372.7 36.883
1376.7 36.828
1380.7 36.777
1381.0 36.959
1383.7 37.002
1386.7 37.055
1389.7 37.091
1392.7 37.134
1394.5 37.172
1394.9 37.037
1398.7 36.971
1402.7 36.896
1406.7 36.843
1410.7 36.794
1411.0 36.987
1413.7 37.021
1416.7 37.064
1419.7 37.094
1422.7 37.128
1424.8 37.159
1425.2 37.037
1428.5 36.990
1432.2 36.910
1434.5 36.850
1439.1 36.765
1440 36.737
};
\end{axis}
% ---------------- Panel 4: PC Temp ----------------
\begin{axis}[hk, at={(55pt,-390.75pt)},
  ymin=21.66, ymax=34.24,
  ytick={25,30},
  xticklabels={00,01,02,03,04,05,06,07,08,09,10,11,12,13,14,15,16,17,18,19,20,21,22,23,00},
  ylabel={PC Temp [°C]}]
\addplot[mplblue, line width=0.7pt] table {
x y
0 23.76
13.8 23.80
30 23.53
43.8 23.62
60 23.26
74.4 23.24
91.2 22.92
103.8 23.01
120 22.79
133.8 22.94
151.2 22.69
164.4 22.87
181.2 22.63
194.4 22.74
211.2 22.49
223.8 22.52
241.2 22.26
253.8 22.48
271.2 22.25
284.4 22.43
301.2 22.22
314.4 22.45
331.2 22.34
344.4 22.56
360 22.45
375.6 22.72
391.2 22.67
405.6 22.92
417 22.80
435.6 23.11
449.4 23.08
466.2 23.42
480 23.51
496.2 24.03
510.6 24.39
524.4 25.21
538.8 25.80
555 26.79
568.8 27.34
585.6 28.22
599.4 28.77
616.2 29.58
630 29.89
645.6 30.46
659.4 30.78
674.4 31.28
691.2 31.49
705 31.97
720 31.94
735 32.25
748.8 32.41
764.4 32.88
779.4 32.93
794.4 33.38
810.6 33.41
823.2 33.66
840 33.41
854.4 33.47
871.2 33.03
885 32.93
900 32.45
914.4 32.50
931.2 32.11
945 32.14
961.2 31.78
973.8 31.82
991.2 31.37
1005.6 31.39
1021.2 31.00
1035 31.01
1051.2 30.60
1065.6 30.62
1081.2 30.10
1096.2 30.09
1111.2 29.62
1124.4 29.60
1141.2 28.95
1153.8 28.79
1171.2 28.24
1184.4 28.29
1201.2 27.93
1215.6 28.06
1231.2 27.79
1245.6 27.93
1262.4 27.64
1276.2 27.81
1291.2 27.54
1306.2 27.64
1321.8 27.27
1335 27.25
1351.2 26.78
1366.2 26.84
1380 26.57
1393.8 26.68
1411.2 26.47
1425 26.74
1440 26.50
};
\end{axis}
\node[font=\fontsize{13.4}{16}\selectfont, anchor=base] at (398.6pt,-11.75pt) {W-band Housekeeping 2024-01-30};
\node[font=\fontsize{12.8}{15}\selectfont, anchor=base] at (398.6pt,-535pt) {Time [UTC]};
\end{tikzpicture}
\end{document}
